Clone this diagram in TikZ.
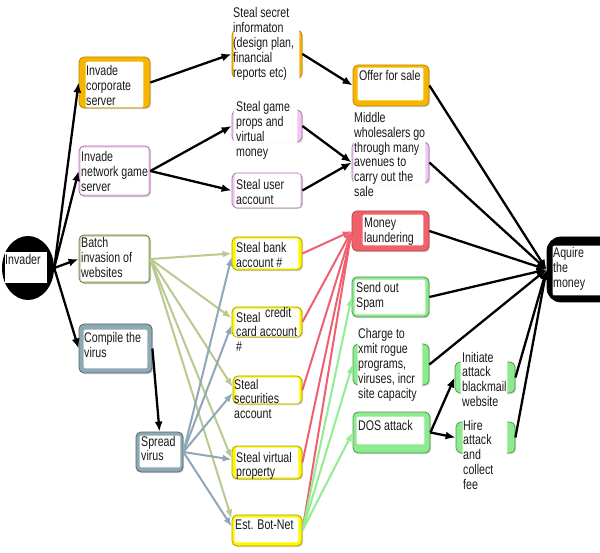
\documentclass[tikz,border=0pt]{standalone}
\usepackage{fontspec}
\setmainfont{Liberation Sans}[FakeStretch=0.76]
\usetikzlibrary{arrows.meta,shapes.geometric,fit,calc,shadows}
\definecolor{orF}{HTML}{F7B500}\definecolor{orD}{HTML}{B88A10}
\definecolor{pkF}{HTML}{F2C6F2}\definecolor{pkD}{HTML}{A878A8}
\definecolor{olF}{HTML}{BCCB94}\definecolor{olD}{HTML}{6E7F50}
\definecolor{tlF}{HTML}{8EA9B2}\definecolor{tlD}{HTML}{4E6A74}
\definecolor{ylF}{HTML}{FFF700}\definecolor{ylD}{HTML}{A8A000}
\definecolor{rdF}{HTML}{F0626A}\definecolor{rdD}{HTML}{B8404A}
\definecolor{grF}{HTML}{8EEA8E}\definecolor{grD}{HTML}{4E9A4E}
\definecolor{olL}{HTML}{BAC98E}\definecolor{tlL}{HTML}{8FA8B8}
\definecolor{rdL}{HTML}{F06070}\definecolor{grL}{HTML}{90EE90}
\tikzset{
 box/.style={rectangle, rounded corners=5pt, inner sep=0pt, line width=0.8pt},
 shd/.style={drop shadow={shadow xshift=1.2pt, shadow yshift=-1.2pt, opacity=0.3}},
 orbox/.style={shd, fill=orF, draw=orD},
 pkbox/.style={shd, fill=pkF, draw=pkD},
 olbox/.style={shd, fill=olF, draw=olD},
 tlbox/.style={shd, fill=tlF, draw=tlD},
 ylbox/.style={shd, fill=ylF, draw=ylD},
 rdbox/.style={shd, fill=rdF, draw=rdD},
 grbox/.style={shd, fill=grF, draw=grD},
 bkbox/.style={fill=black, draw=black, rounded corners=14pt},
 txt/.style={inner sep=0pt, align=left, anchor=base west, font=\fontsize{14}{14.8}\selectfont, text=black!90},
 blk/.style={line width=2.3pt, draw=black, -{Latex[length=10pt,width=8pt]}},
 olv/.style={line width=2pt, draw=olL, -{Latex[length=9pt,width=7pt]}},
 tlv/.style={line width=2pt, draw=tlL, -{Latex[length=9pt,width=7pt]}},
 rdv/.style={line width=2pt, draw=rdL, -{Latex[length=9pt,width=7pt]}},
 grv/.style={line width=2pt, draw=grL, -{Latex[length=9pt,width=7pt]}},
}
\newcommand\bx[5]{%
  \node[box,#2,fit={#3 #4}] (#1) {};
  \whitein{#1}#5\relax}
\def\whitein#1#2/#3/#4/#5\relax{%
  \fill[white,rounded corners=1.5pt] ($(#1.north west)+(#2,#3)$) rectangle ($(#1.south east)+({0-(#4)},{0-(#5)})$);}
\begin{document}
\begin{tikzpicture}[x=1pt,y=-1pt]
\useasboundingbox (0,0) rectangle (600,553);
\clip (0,0) rectangle (600,553);
\fill[white] (0,0) rectangle (600,553);

% Invader
\node[ellipse, fill=black, minimum width=52pt, minimum height=64pt, inner sep=0pt] (inv) at (28,268) {};
\fill[white] (5,252) rectangle (47,283);
\node[txt] (invt) at (5,265) {Invader};

% (text nodes are placed at the baseline of their last line)
\bx{corp}{orbox}{(79,57)}{(150,108)}{7/5/7/1}
\node[txt] (corpt) at (86,105.6) {Invade\\corporate\\server};
\bx{net}{pkbox}{(79,146)}{(150,196)}{2/2/2/2}
\node[txt] (nett) at (81,191.6) {Invade\\network game\\server};
\bx{batch}{olbox}{(79,235)}{(150,283)}{2/2/2/2}
\node[txt] (batcht) at (81,277.6) {Batch\\invasion of\\websites};
\bx{comp}{tlbox}{(79,324)}{(152,373)}{5/6/5/5}
\node[txt] (compt) at (84,357.8) {Compile the\\virus};
\bx{sec}{orbox}{(232,30)}{(302,78)}{2/-1/3/-1}
\node[txt] (sect) at (233,77.2) {Steal secret\\informaton\\(design plan,\\financial\\reports etc)};
\bx{offer}{orbox}{(353,65)}{(429,106)}{5/3/6/6}
\node[txt] (offert) at (359,81) {Offer for sale};
\bx{props}{pkbox}{(232,110)}{(302,142)}{2/-1/5/-1}
\node[txt] (propst) at (236,156.4) {Steal game\\props and\\virtual\\money};
\bx{user}{pkbox}{(232,173)}{(302,208)}{3/1/2/1}
\node[txt] (usert) at (236,204.8) {Steal user\\account};
\bx{mid}{pkbox}{(352,142)}{(429,183)}{2/-1/4/-1}
\node[txt] (midt) at (354,196.5) {Middle\\wholesalers go\\through many\\avenues to\\carry out the\\sale};
\bx{bank}{ylbox}{(232,237)}{(302,270)}{4/2/4/2}
\node[txt] (bankt) at (236,267.8) {Steal bank\\account \#};
\bx{credit}{ylbox}{(232,307)}{(302,337)}{3/2/3/1}
\node[txt] (creditt) at (236,351.6) {Steal\\card account\\\#};
\node[txt] (creditw) at (265,318) {credit};
\bx{secu}{ylbox}{(233,376)}{(302,404)}{3/2/3/1}
\node[txt] (secut) at (234,418.6) {Steal\\securities\\account};
\bx{virt}{ylbox}{(232,446)}{(302,479)}{4/2/4/2}
\node[txt] (virtt) at (236,476.8) {Steal virtual\\property};
\bx{bot}{ylbox}{(232,515)}{(302,546)}{3/3/4/4}
\node[txt] (bott) at (235,529) {Est. Bot-Net};
\bx{spread}{tlbox}{(136,432)}{(183,472)}{4/4/3/5}
\node[txt] (spreadt) at (141,460.8) {Spread\\virus};
\bx{money}{rdbox}{(352,211)}{(429,251)}{11/4/6/6}
\node[txt] (moneyt) at (364,242.8) {Money\\laundering};
\bx{spam}{grbox}{(352,277)}{(429,317)}{3/3/4/3}
\node[txt] (spamt) at (356,307.8) {Send out\\Spam};
\bx{charge}{grbox}{(353,344)}{(429,385)}{5/-1/7/-1}
\node[txt] (charget) at (358,398.2) {Charge to\\xmit rogue\\programs,\\viruses, incr\\site capacity};
\bx{dos}{grbox}{(353,412)}{(430,453)}{4/5/6/9}
\node[txt] (dost) at (358,430) {DOS attack};
\bx{init}{grbox}{(455,362)}{(515,393)}{6/-1/8/-1}
\node[txt] (initt) at (462,406.4) {Initiate\\attack\\blackmail\\website};
\bx{hire}{grbox}{(456,422)}{(515,453)}{7/-1/8/-1}
\node[txt] (hiret) at (463,489.2) {Hire\\attack\\and\\collect\\fee};
\bx{aq}{bkbox}{(547,237)}{(615,302)}{6/9/10/7}
\node[txt] (aqt) at (553,287.6) {Aquire\\the\\money};

% olive connectors
\draw[olv] (batch.east) -- (bank.west);
\draw[olv] (batch.east) -- ([yshift=4pt]credit.west);
\draw[olv] (batch.east) -- ([yshift=3pt]secu.west);
\draw[olv] (batch.east) -- ([yshift=4pt]virt.west);
\draw[olv] (batch.east) -- ([yshift=12pt]bot.west);
% teal connectors
\draw[tlv] (spread.east) -- ([yshift=-3.5pt]bank.west);
\draw[tlv] (spread.east) -- ([yshift=-3pt]credit.west);
\draw[tlv] (spread.east) -- ([yshift=-3pt]secu.west);
\draw[tlv] (spread.east) -- ([yshift=3pt]virt.west);
\draw[tlv] (spread.east) -- ([yshift=4pt]bot.west);
% red connectors
\draw[rdv] (bank.east) -- (money.west);
\draw[rdv] (credit.east) -- (money.west);
\draw[rdv] (secu.east) -- (money.west);
\draw[rdv] (virt.east) -- (money.west);
\draw[rdv] (bot.east) -- (money.west);
% green connectors
\draw[grv] (bot.east) -- (spam.west);
\draw[grv] (bot.east) -- (charge.west);
\draw[grv] (bot.east) -- (dos.west);
% black connectors
\draw[blk] (inv.east) -- (corp.west);
\draw[blk] (inv.east) -- (net.west);
\draw[blk] (inv.east) -- (batch.west);
\draw[blk] (inv.east) -- (comp.west);
\draw[blk] (corp.east) -- (sec.west);
\draw[blk] (sec.east) -- (offer.west);
\draw[blk] (net.east) -- (props.west);
\draw[blk] (net.east) -- (user.west);
\draw[blk] (props.east) -- (mid.west);
\draw[blk] (user.east) -- (mid.west);
\draw[blk] (comp.east) -- (spread.north);
\draw[blk] (dos.east) -- (init.west);
\draw[blk] (dos.east) -- (hire.west);
\draw[blk] (offer.east) -- (aq.west);
\draw[blk] (mid.east) -- (aq.west);
\draw[blk] (money.east) -- (aq.west);
\draw[blk] (spam.east) -- (aq.west);
\draw[blk] (charge.east) -- (aq.west);
\draw[blk] (init.east) -- (aq.west);
\draw[blk] (hire.east) -- (aq.west);
\end{tikzpicture}
\end{document}
